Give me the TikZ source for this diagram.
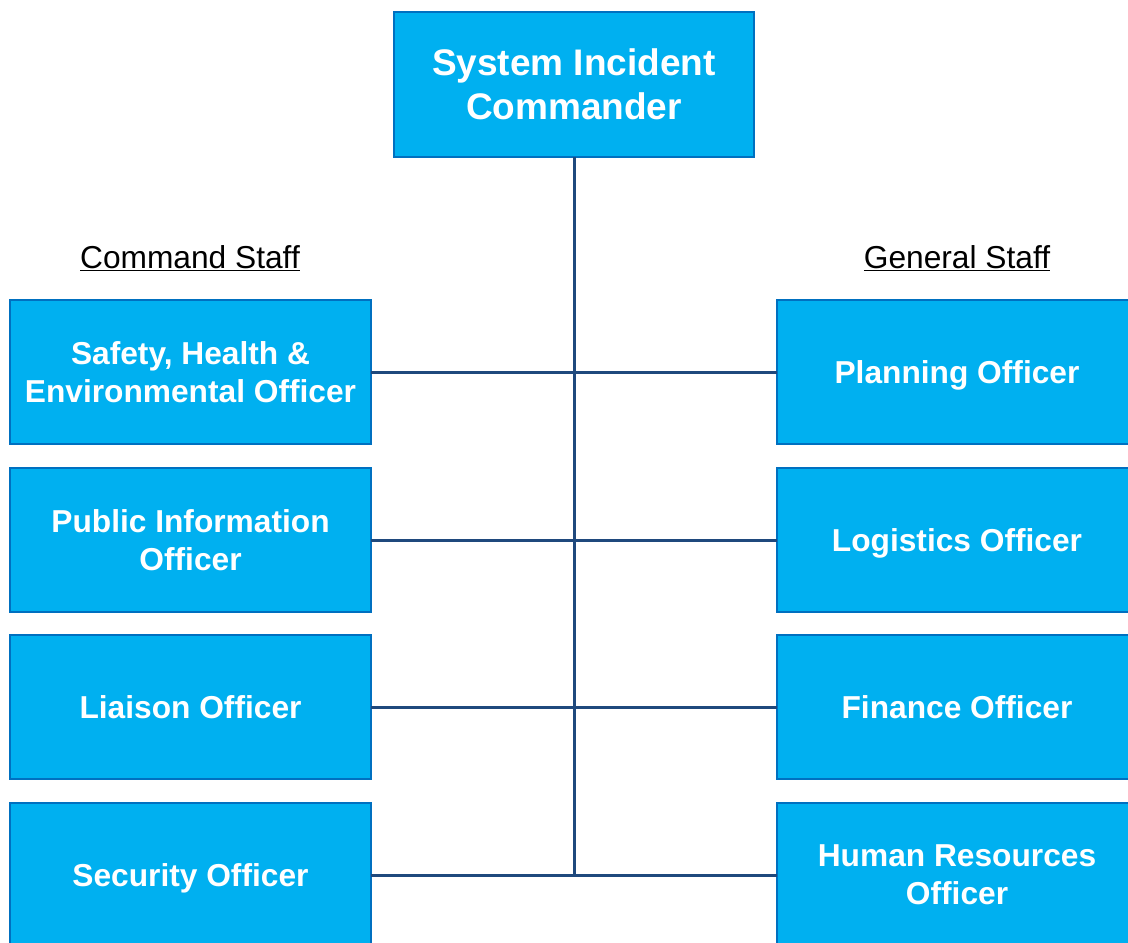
\documentclass[tikz,border=0pt]{standalone}
\usepackage{fontspec}
\setmainfont{Liberation Sans}
\definecolor{boxfill}{HTML}{00B0F0}
\definecolor{boxline}{HTML}{0070C0}
\definecolor{connline}{HTML}{1F497D}
\begin{document}
\begin{tikzpicture}[x=1pt,y=-1pt,
  orgbox/.style={draw=boxline, fill=boxfill, line width=2.5pt, inner sep=0pt, outer sep=0pt,
    minimum width=360pt, minimum height=144pt, align=center, text=white,
    font=\fontsize{31.7}{38}\selectfont\bfseries},
  onebox/.style={orgbox, text depth=0pt},
  topbox/.style={orgbox, minimum height=145pt, font=\fontsize{37}{44}\selectfont\bfseries},
  conn/.style={draw=connline, line width=3pt},
  header/.style={inner sep=0pt, font=\fontsize{31.7}{38}\selectfont, text=black}]
\useasboundingbox (0,0) rectangle (1128,943);
\clip (0,0) rectangle (1128,943);
\fill[white] (0,0) rectangle (1128,943);
% top
\node[topbox] (top) at (574,84.5) {System Incident\\Commander};
% headers
\node[header] (cs) at (190,258) {\underline{Command Staff}};
\node[header] (gs) at (957,258) {\underline{General Staff}};
% left
\node[orgbox, minimum width=361pt] (l1) at (190.5,372) {Safety, Health \&\\Environmental Officer};
\node[orgbox, minimum width=361pt] (l2) at (190.5,540) {Public Information\\Officer};
\node[orgbox, minimum width=361pt, yshift=1pt] (l3) at (190.5,708) {Liaison Officer};
\node[onebox, minimum width=361pt] (l4) at (190.5,875) {Security Officer};
% right
\node[onebox] (r1) at (957,372) {Planning Officer};
\node[onebox] (r2) at (957,540) {Logistics Officer};
\node[orgbox, yshift=1pt] (r3) at (957,708) {Finance Officer};
\node[orgbox] (r4) at (957,875) {Human Resources\\Officer};
% connectors
\coordinate (vend) at (top.south |- l4.east);
\draw[conn] (top.south) -- (vend);
\draw[conn] (l1.east) -- (r1.west);
\draw[conn] (l2.east) -- (r2.west);
\draw[conn] (l3.east) -- (r3.west);
\draw[conn] (l4.east) -- (r4.west);
\end{tikzpicture}
\end{document}
